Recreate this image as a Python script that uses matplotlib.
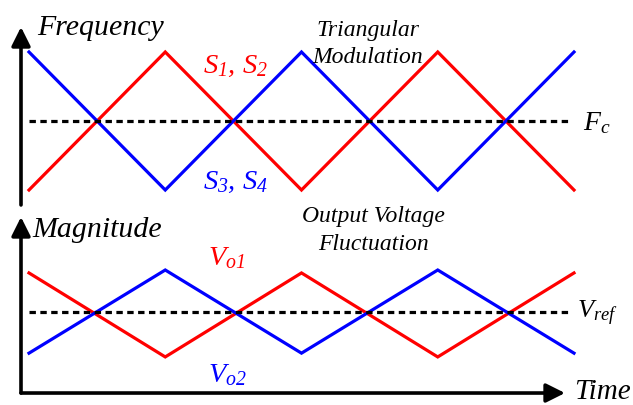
import matplotlib
matplotlib.use("Agg")
import matplotlib.pyplot as plt

plt.rcParams["mathtext.fontset"] = "custom"
plt.rcParams["mathtext.rm"] = "Liberation Serif:italic"
plt.rcParams["mathtext.it"] = "Liberation Serif:italic"
plt.rcParams["mathtext.cal"] = "Liberation Serif:italic"
plt.rcParams["font.family"] = "Liberation Serif"

# time samples (half switching periods)
t = [0, 1, 2, 3, 4]

# triangular carrier frequencies (normalised around Fc)
s12 = [-1, 1, -1, 1, -1]
s34 = [1, -1, 1, -1, 1]
fc_level = 0.0
fc_span = [0, 3.96]

# output voltages (normalised around Vref)
vo1 = [0.93, -1.07, 0.93, -1.07, 0.93]
vo2 = [-0.98, 1.0, -0.98, 1.0, -0.98]
vref_level = 0.0
vref_span = [0, 3.97]

RED = "#ff0000"
BLUE = "#0000ff"
LW = 2.3

W, H = 633, 405
fig = plt.figure(figsize=(W / 100, H / 100), dpi=100)

# layout: 136.25 px per time unit, t=0 at x=29
x0_px, px_per_t = 29.0, 136.25
xlim = (-x0_px / px_per_t, (W - x0_px) / px_per_t)

# top panel: rows 0..210, centre 121, 69 px per unit
top_h = 210
ax1 = fig.add_axes([0, 1 - top_h / H, 1, top_h / H])
ax1.set_xlim(*xlim)
ax1.set_ylim(-(top_h - 121) / 69, 121 / 69)

# bottom panel: rows 210..405, centre 312, 42 px per unit
ax2 = fig.add_axes([0, 0, 1, (H - top_h) / H])
ax2.set_xlim(*xlim)
ax2.set_ylim(-(H - 312) / 42, (312 - top_h) / 42)

for ax in (ax1, ax2):
    ax.axis("off")

dash = dict(color="black", lw=2.3, linestyle=(0, (2.0, 1.4)))
arrow = dict(arrowstyle="-|>,head_length=0.6,head_width=0.3",
             lw=2.6, color="black", mutation_scale=19,
             shrinkA=0, shrinkB=0)

BIG = 21.5
MID = 17
LBL = 20.5

# ---- top: triangular modulation ----
ax1.plot(fc_span, [fc_level, fc_level], **dash, zorder=3)
ax1.plot(t, s12, color=RED, lw=LW, solid_joinstyle="miter", zorder=2)
ax1.plot(t, s34, color=BLUE, lw=LW, solid_joinstyle="miter", zorder=2)
ax1.annotate("", xy=(-0.0587, 1.362), xytext=(-0.0587, -1.217),
             arrowprops=arrow)

ax1.text(0.059, 1.246, "Frequency", fontsize=BIG, style="italic",
         ha="left", va="baseline")
ax1.text(2.488, 1.232, "Triangular", fontsize=MID, style="italic",
         ha="center", va="baseline")
ax1.text(2.488, 0.84, "Modulation", fontsize=MID, style="italic",
         ha="center", va="baseline")
ax1.text(1.277, 0.696, r"$S_1,\,S_2$", fontsize=LBL, color=RED,
         ha="left", va="baseline")
ax1.text(1.277, -0.986, r"$S_3,\,S_4$", fontsize=LBL, color=BLUE,
         ha="left", va="baseline")
ax1.text(4.066, -0.13, r"$F_c$", fontsize=20, color="black",
         ha="left", va="baseline")

# ---- bottom: output voltage fluctuation ----
ax2.plot(vref_span, [vref_level, vref_level], **dash, zorder=3)
ax2.plot(t, vo1, color=RED, lw=LW, solid_joinstyle="miter", zorder=2)
ax2.plot(t, vo2, color=BLUE, lw=LW, solid_joinstyle="miter", zorder=2)
ax2.annotate("", xy=(-0.0587, 2.262), xytext=(-0.0587, -1.929),
             arrowprops=arrow)
ax2.annotate("", xy=(3.934, -1.929), xytext=(-0.0587, -1.929),
             arrowprops=arrow)

ax2.text(0.022, 1.786, "Magnitude", fontsize=BIG, style="italic",
         ha="left", va="baseline")
ax2.text(2.525, 2.143, "Output Voltage", fontsize=MID, style="italic",
         ha="center", va="baseline")
ax2.text(2.525, 1.476, "Fluctuation", fontsize=MID, style="italic",
         ha="center", va="baseline")
ax2.text(1.314, 1.119, r"$V_{o1}$", fontsize=LBL, color=RED,
         ha="left", va="baseline")
ax2.text(1.314, -1.667, r"$V_{o2}$", fontsize=LBL, color=BLUE,
         ha="left", va="baseline")
ax2.text(4.022, -0.143, r"$V_{ref}$", fontsize=19, color="black",
         ha="left", va="baseline")
ax2.text(4.0, -2.07, "Time", fontsize=21, style="italic",
         ha="left", va="baseline")

fig.savefig("out.png", dpi=100)
